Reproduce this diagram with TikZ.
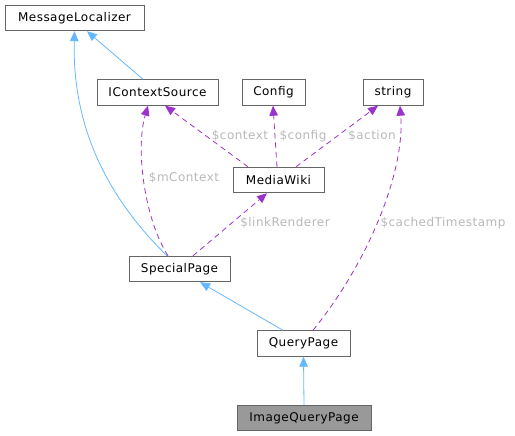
\documentclass[tikz,border=0pt]{standalone}
\usepackage{fontspec}
\setmainfont{DejaVu Sans}[LetterSpace=4]
\usetikzlibrary{arrows.meta}
\definecolor{boxline}{HTML}{666666}
\definecolor{inh}{HTML}{63B8FF}
\definecolor{use}{HTML}{9A32CD}
\definecolor{lbl}{HTML}{B8B8B8}
\definecolor{cur}{HTML}{999999}
\begin{document}
\begin{tikzpicture}[x=1pt,y=-1pt,
  cls/.style={draw=boxline,line width=0.9pt,fill=white,inner sep=0pt,minimum height=25.5pt,font=\fontsize{12}{13}\selectfont},
  inhedge/.style={draw=inh,line width=0.8pt,-{Triangle[length=10pt,width=8.5pt,fill=inh]}},
  useedge/.style={draw=use,line width=0.8pt,dash pattern=on 5.5pt off 4pt,-{Triangle[length=10pt,width=8.5pt,fill=use]}},
  elab/.style={text=lbl,font=\fontsize{12}{13}\selectfont,inner sep=1pt}]
\useasboundingbox (0,0) rectangle (515,436);
\node[cls,minimum width=139pt] (ml) at (74.5,18) {MessageLocalizer};
\node[cls,minimum width=121pt] (ics) at (157.5,92.5) {IContextSource};
\node[cls,minimum width=63pt] (cfg) at (273.5,92.5) {Config};
\node[cls,minimum width=60pt] (str) at (393,92.5) {string};
\node[cls,minimum width=91pt] (mw) at (278.5,180) {MediaWiki};
\node[cls,minimum width=101pt] (sp) at (179.5,269) {SpecialPage};
\node[cls,minimum width=93pt] (qp) at (303.5,343.5) {QueryPage};
\node[cls,minimum width=134pt,fill=cur] (iqp) at (304,418) {ImageQueryPage};

\draw[inhedge] ([xshift=-14.5pt]ics.north) -- ([xshift=12.5pt]ml.south);
\draw[inhedge] ([xshift=-12.5pt]sp.north) .. controls (110,200) and (72,130) .. (ml.south);
\draw[useedge] ([xshift=-11.5pt]sp.north) .. controls (145,220) and (135,150) .. ([xshift=-9.5pt]ics.south);
\draw[useedge] ([xshift=13.5pt]sp.north) -- ([xshift=-11.5pt]mw.south);
\draw[useedge] ([xshift=-30.5pt]mw.north) -- ([xshift=7.5pt]ics.south);
\draw[useedge] ([xshift=-1.5pt]mw.north) -- ([xshift=-0.5pt]cfg.south);
\draw[useedge] ([xshift=17.5pt]mw.north) -- ([xshift=-15pt]str.south);
\draw[useedge] ([xshift=9.5pt]qp.north) .. controls (370,260) and (405,170) .. ([xshift=7pt]str.south);
\draw[inhedge] ([xshift=-20.5pt]qp.north) -- ([xshift=20.5pt]sp.south);
\draw[inhedge] (iqp.north) -- (qp.south);

\node[elab] (l1) at (184,178) {\$mContext};
\node[elab] (l2) at (285,223) {\$linkRenderer};
\node[elab] (l3) at (240,136) {\$context};
\node[elab] (l4) at (303,136) {\$config};
\node[elab] (l5) at (372,136) {\$action};
\node[elab] (l6) at (443,223) {\$cachedTimestamp};
\end{tikzpicture}
\end{document}
